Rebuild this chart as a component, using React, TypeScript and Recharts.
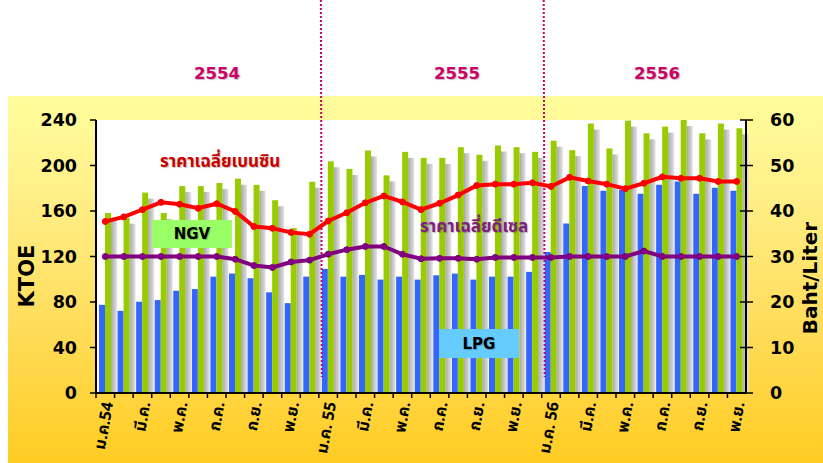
import React from 'react';
import {
  ComposedChart, Bar, Line, XAxis, YAxis, CartesianGrid, ReferenceLine,
} from 'recharts';

const categories = [
  '01/54','02/54','03/54','04/54','05/54','06/54','07/54','08/54','09/54','10/54','11/54','12/54',
  '01/55','02/55','03/55','04/55','05/55','06/55','07/55','08/55','09/55','10/55','11/55','12/55',
  '01/56','02/56','03/56','04/56','05/56','06/56','07/56','08/56','09/56','10/56','11/56',
];

const tickLabels = [
  'ม.ค.54','','มี.ค.','','พ.ค.','','ก.ค.','','ก.ย.','','พ.ย.','',
  'ม.ค. 55','','มี.ค.','','พ.ค.','','ก.ค.','','ก.ย.','','พ.ย.','',
  'ม.ค. 56','','มี.ค.','','พ.ค.','','ก.ค.','','ก.ย.','','พ.ย.',
];

// KTOE
const lpg = [
  77.5,72.2,80.2,81.7,89.9,91.4,102.3,105,100.9,88.5,79,102.3,
  109.1,102.3,103.8,99.7,102.3,99.7,103.5,105,99.7,102.3,102.3,106.5,
  123.9,149.1,182,177.7,178.6,175.1,183,186,175.1,180.4,177.7,
];
const ngv = [
  158.2,154.1,176.2,158.2,181.9,181.9,184.6,188.4,183,169.5,144.9,185.7,
  203.7,197,213.2,191.3,212,206.7,206.7,216.1,209.4,217.6,216.1,212,
  221.8,213.5,236.9,215,239.5,228.3,234.2,240,228.3,236.9,232.7,
];
// Baht/Liter
const gasoline = [
  37.7,38.7,40.3,41.9,41.5,40.6,41.6,39.9,36.6,36.2,35.3,34.9,
  37.8,39.6,41.8,43.3,42,40.3,41.7,43.5,45.6,45.9,45.9,46.2,
  45.4,47.4,46.6,45.9,44.9,46.1,47.5,47.2,47.2,46.5,46.5,
];
const diesel = [
  30,30,30,30,30,30,30,29.4,28,27.6,28.8,29.2,
  30.5,31.5,32.2,32.2,30.5,29.5,29.6,29.6,29.4,29.8,29.8,29.8,
  29.8,30,30,30,30,31.2,30,30,30,30,30,
];

const leftTicks = [0, 40, 80, 120, 160, 200, 240];
const rightTicks = [0, 10, 20, 30, 40, 50, 60];
const yearLabels = ['2554', '2555', '2556'];
const yearBoundaries = ['01/55', '01/56'];

const data = categories.map((c, i) => ({
  m: c, lpg: lpg[i], ngv: ngv[i], gasoline: gasoline[i], diesel: diesel[i],
}));

const LATIN = "'DejaVu Sans', Verdana, sans-serif";
const THAI = "'Noto Sans Thai', Tahoma, 'DejaVu Sans', 'Noto Sans', sans-serif";

const GreenShape = (props: any) => {
  const { x, y, width, height } = props;
  if (height == null || height <= 0) return null;
  return (
    <g>
      <rect x={x + width} y={y + 6} width={6} height={Math.max(0, height - 6)} fill="url(#shadowGrad)" />
      <rect x={x} y={y} width={width} height={height} fill="#99CC00" />
    </g>
  );
};

const XTick = (props: any) => {
  const { x, y, payload, index } = props;
  const off = payload && typeof payload.offset === 'number' ? payload.offset : 0;
  const label = tickLabels[index] ?? '';
  return (
    <g>
      <line x1={x - off} y1={y} x2={x - off} y2={y + 5} stroke="#000" strokeWidth={1.5} />
      {label ? (
        <text
          x={0} y={0}
          transform={`translate(${x + 3},${y + 9}) rotate(-80)`}
          textAnchor="end"
          dominantBaseline="central"
          fontFamily={THAI}
          fontWeight="bold"
          fontSize={16}
          fill="#000"
        >
          {label}
        </text>
      ) : null}
    </g>
  );
};

const RightTick = (props: any) => {
  const { x, y, payload } = props;
  return (
    <g>
      <line x1={x - 30} y1={y} x2={x - 24} y2={y} stroke="#000" strokeWidth={1.5} />
      <text x={x} y={y} dy={6} textAnchor="start" fontFamily={LATIN} fontWeight="bold" fontSize={17.5} fill="#000">
        {payload.value}
      </text>
    </g>
  );
};

const DottedLine = (props: any) => {
  const { x1, y1, y2 } = props;
  const bottom = Math.max(y1, y2);
  return (
    <line x1={x1 + 2} y1={0} x2={x1 + 3} y2={bottom - 16} stroke="#CC0066" strokeWidth={2} strokeDasharray="2 2" />
  );
};

const abs = (style: React.CSSProperties): React.CSSProperties => ({ position: 'absolute', ...style });

export default function App() {
  return (
    <div style={abs({ left: 0, top: 0, width: 823, height: 463, background: '#fff', overflow: 'hidden' })}>
      <div
        style={abs({
          left: 8, top: 96, width: 815, height: 367,
          background: 'linear-gradient(to bottom, #FFFD9C 0%, #FFF08A 25%, #FFDE5E 60%, #FFCC22 100%)',
        })}
      />
      <div style={abs({ left: 0, top: 0 })}>
        <ComposedChart
          width={823}
          height={463}
          data={data}
          margin={{ top: 120, right: 0, bottom: 0, left: 0 }}
          barGap={0}
          barCategoryGap={0}
        >
          <defs>
            <linearGradient id="shadowGrad" x1="0" y1="0" x2="1" y2="0">
              <stop offset="0%" stopColor="#A8A8A8" />
              <stop offset="100%" stopColor="#E2E2E2" />
            </linearGradient>
          </defs>
          <CartesianGrid fill="#FFFFFF" stroke="none" />
          <XAxis
            dataKey="m"
            height={70}
            interval={0}
            tickLine={false}
            tickSize={0}
            tickMargin={0}
            axisLine={{ stroke: '#000', strokeWidth: 2 }}
            tick={<XTick />}
          />
          <YAxis
            yAxisId="left"
            width={96}
            domain={[0, 240]}
            ticks={leftTicks}
            interval={0}
            tickSize={6}
            tickMargin={13}
            axisLine={{ stroke: '#000', strokeWidth: 2 }}
            tickLine={{ stroke: '#000', strokeWidth: 1.5 }}
            tick={{ fill: '#000', fontFamily: LATIN, fontWeight: 'bold', fontSize: 17.5 }}
          />
          <YAxis
            yAxisId="right"
            orientation="right"
            width={77}
            domain={[0, 60]}
            ticks={rightTicks}
            interval={0}
            tickSize={7}
            tickMargin={17}
            axisLine={{ stroke: '#000', strokeWidth: 2 }}
            tickLine={{ stroke: '#000', strokeWidth: 1.5 }}
            tick={<RightTick />}
          />
          <Bar yAxisId="left" dataKey="lpg" fill="#3366FF" barSize={6} isAnimationActive={false} />
          <Bar yAxisId="left" dataKey="ngv" fill="#99CC00" barSize={6} shape={<GreenShape />} isAnimationActive={false} />
          {yearBoundaries.map((b) => (
            <ReferenceLine key={b} yAxisId="left" x={b} position="start" shape={<DottedLine />} />
          ))}
          <Line
            yAxisId="right" dataKey="diesel" type="linear" stroke="#800080" strokeWidth={4}
            dot={{ r: 3, fill: '#800080', stroke: '#800080', strokeWidth: 1 }} isAnimationActive={false}
          />
          <Line
            yAxisId="right" dataKey="gasoline" type="linear" stroke="#FF0000" strokeWidth={4}
            dot={{ r: 3, fill: '#FF0000', stroke: '#FF0000', strokeWidth: 1 }} isAnimationActive={false}
          />
        </ComposedChart>
      </div>

      {yearLabels.map((yl, i) => (
        <div
          key={yl}
          style={abs({
            left: [217, 457, 657][i] - 40, top: 64, width: 80, textAlign: 'center',
            fontFamily: LATIN, fontWeight: 'bold', fontSize: 16.5, color: '#CC0066',
            textShadow: '1px 1px 1px rgba(0,0,0,0.25)',
          })}
        >
          {yl}
        </div>
      ))}

      <div style={abs({ left: 160, top: 149, whiteSpace: 'nowrap', fontFamily: THAI, fontWeight: 'bold', fontSize: 17, color: '#CC0000', textShadow: '1px 1px 1px rgba(0,0,0,0.25)' })}>
        ราคาเฉลี่ยเบนซิน
      </div>
      <div style={abs({ left: 420, top: 214, whiteSpace: 'nowrap', fontFamily: THAI, fontWeight: 'bold', fontSize: 17, color: '#7F1F7F', textShadow: '1px 1px 1px rgba(0,0,0,0.25)' })}>
        ราคาเฉลี่ยดีเซล
      </div>

      <div style={abs({ left: 152, top: 220, width: 80, height: 28, background: '#99FF66', display: 'flex', alignItems: 'center', justifyContent: 'center', fontFamily: LATIN, fontWeight: 'bold', fontSize: 15, color: '#000', textShadow: '1px 1px 1px rgba(0,0,0,0.25)' })}>
        NGV
      </div>
      <div style={abs({ left: 439, top: 329, width: 80, height: 29, background: '#66CCFF', display: 'flex', alignItems: 'center', justifyContent: 'center', fontFamily: LATIN, fontWeight: 'bold', fontSize: 15, color: '#000', textShadow: '1px 1px 1px rgba(0,0,0,0.25)' })}>
        LPG
      </div>

      <div style={abs({ left: 27, top: 276, transform: 'translate(-50%,-50%) rotate(-90deg)', whiteSpace: 'nowrap', fontFamily: LATIN, fontWeight: 'bold', fontSize: 21, color: '#000' })}>
        KTOE
      </div>
      <div style={abs({ left: 810, top: 278, transform: 'translate(-50%,-50%) rotate(-90deg)', whiteSpace: 'nowrap', fontFamily: LATIN, fontWeight: 'bold', fontSize: 20, color: '#000' })}>
        Baht/Liter
      </div>
    </div>
  );
}
